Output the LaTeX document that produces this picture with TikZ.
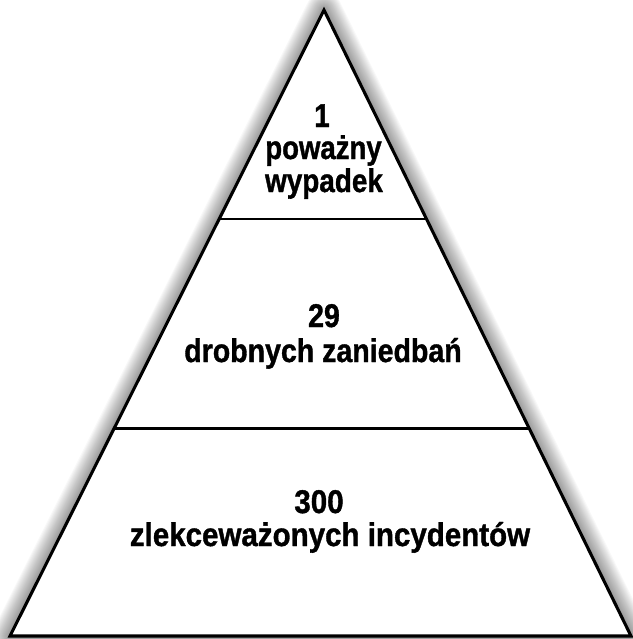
\documentclass[tikz,border=0pt]{standalone}
\usepackage{fontspec}
\setmainfont{Liberation Sans}
\newfontfamily\heavy{Liberation Sans}[BoldFeatures={FakeBold=1.2}]
\usetikzlibrary{calc}
\newcommand\sqz[2][0.9]{\scalebox{#1}[1]{#2}}
\begin{document}
\begin{tikzpicture}[x=0.75pt,y=-0.75pt,
  lbl/.style={font=\heavy\fontsize{24.6}{28}\selectfont\bfseries, inner sep=0pt, anchor=base},
  edge/.style={draw=black, line width=2.3pt, line join=miter},
  divider/.style={draw=black, line width=2pt}]
\useasboundingbox (0,0) rectangle (632,639);
\coordinate (A) at (324,10);
\coordinate (L) at (10,636);
\coordinate (R) at (631,636);
% soft glow
\foreach \w in {2,4,...,36}
  \draw[black, opacity=0.027, line width=\w*0.75pt, line join=round] (A) -- (L) -- (R) -- cycle;
\fill[white] (A) -- (L) -- (R) -- cycle;
\draw[edge] (A) -- (L) -- (R) -- cycle;
\coordinate (d1l) at ($(A)!0.334!(L)$);
\coordinate (d1r) at ($(A)!0.334!(R)$);
\coordinate (d2l) at ($(A)!0.668!(L)$);
\coordinate (d2r) at ($(A)!0.668!(R)$);
\draw[divider] (d1l) -- (d1r);
\draw[divider] (d2l) -- (d2r);
% labels
\node[lbl] (t1) at (322,127) {\sqz[0.85]{1}};
\node[lbl] (t2) at (323.5,159) {\sqz[0.84]{poważny}};
\node[lbl] (t3) at (324,192) {\sqz[0.85]{wypadek}};
\node[lbl] (m1) at (324,327) {\sqz[0.87]{29}};
\node[lbl] (m2) at (323,362) {\sqz[0.87]{drobnych zaniedbań}};
\node[lbl] (b1) at (319,513) {\sqz{300}};
\node[lbl] (b2) at (330,546) {\sqz{zlekceważonych incydentów}};
\end{tikzpicture}
\end{document}
